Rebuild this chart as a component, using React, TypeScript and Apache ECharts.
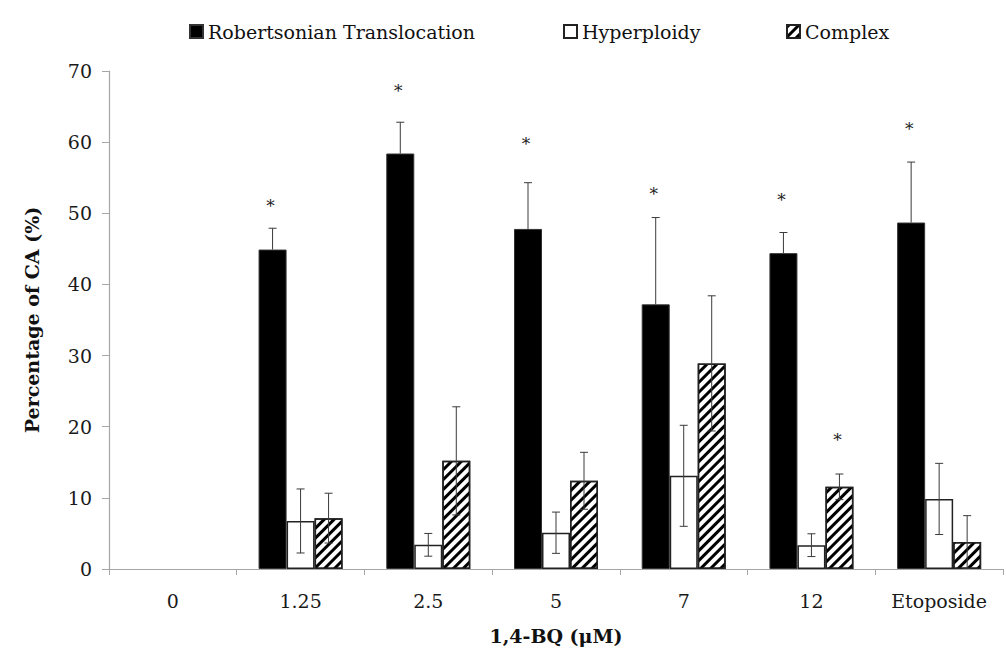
import React, { useEffect, useRef } from "react";
import * as echarts from "echarts";

const categories = ["0", "1.25", "2.5", "5", "7", "12", "Etoposide"];
const robertsonian = [0, 44.9, 58.4, 47.8, 37.2, 44.4, 48.7];
const robertsonianErr = [0, 3.0, 4.4, 6.5, 12.2, 2.9, 8.5];
const hyperploidy = [0, 6.75, 3.4, 5.1, 13.1, 3.35, 9.85];
const hyperploidyErr = [0, 4.5, 1.6, 2.9, 7.1, 1.6, 5.0];
const complex = [0, 7.15, 15.2, 12.4, 28.9, 11.55, 3.8];
const complexErr = [0, 3.5, 7.6, 4.0, 9.5, 1.8, 3.7];
const robertsonianSig: (number | null)[] = [null, 51.4, 67.6, 60.2, 53.2, 52.3, 62.3];
const complexSig: (number | null)[] = [null, null, null, null, null, 18.6, null];
const yTicks = { min: 0, max: 70, interval: 10 };

const FONT = "'DejaVu Serif', serif";
const BAR_W = 28;
const ERR_COLOR = "#3a3a3a";

// zero-height bars are not drawn in the reference
const barData = (vals: number[]) => vals.map((v) => (v === 0 ? "-" : v));

function errSeries(values: number[], errs: number[], slot: number, upOnly: boolean) {
  return {
    type: "custom",
    z: 5,
    silent: true,
    data: values.map((v, i) => [i, v, errs[i]]),
    encode: { x: 0, y: 1 },
    renderItem: (params: any, api: any) => {
      const i = api.value(0);
      const v = api.value(1);
      const e = api.value(2);
      if (!e) return null;
      const c = api.coord([i, v]);
      const t = api.coord([i, v + e]);
      const b = api.coord([i, v - e]);
      const x = c[0] + slot * BAR_W;
      const st = { stroke: ERR_COLOR, lineWidth: 1 };
      const children: any[] = [
        { type: "line", shape: { x1: x, y1: t[1], x2: x, y2: upOnly ? c[1] : b[1] }, style: st },
        { type: "line", shape: { x1: x - 4, y1: t[1], x2: x + 4, y2: t[1] }, style: st },
      ];
      if (!upOnly) {
        children.push({ type: "line", shape: { x1: x - 4, y1: b[1], x2: x + 4, y2: b[1] }, style: st });
      }
      return { type: "group", children };
    },
  };
}

function sigSeries(levels: (number | null)[], slot: number) {
  const data: number[][] = [];
  levels.forEach((s, i) => {
    if (s != null) data.push([i, s]);
  });
  return {
    type: "custom",
    z: 6,
    silent: true,
    data,
    encode: { x: 0, y: 1 },
    renderItem: (params: any, api: any) => {
      const c = api.coord([api.value(0), api.value(1)]);
      return {
        type: "text",
        x: c[0] + slot * BAR_W - 2,
        y: c[1] + 3,
        style: {
          text: "*",
          fill: "#222",
          font: `17px ${FONT}`,
          align: "center",
          verticalAlign: "middle",
        },
      };
    },
  };
}

export default function App() {
  const ref = useRef<HTMLDivElement>(null);
  useEffect(() => {
    if (!ref.current) return;
    const chart = echarts.init(ref.current, null, { renderer: "svg" });
    const legendText = { fontFamily: FONT, fontSize: 19, color: "#111" };
    const mkLegend = (name: string, left: number) => ({
      data: [{ name, icon: "rect" }],
      left,
      top: 17,
      itemWidth: 13,
      itemHeight: 13,
      itemGap: 0,
      textStyle: legendText,
      selectedMode: false,
    });
    chart.setOption({
      animation: false,
      backgroundColor: "#fff",
      legend: [
        mkLegend("Robertsonian Translocation", 184),
        mkLegend("Hyperploidy", 558),
        mkLegend("Complex", 781),
      ],
      grid: { left: 109, right: 3, top: 71, bottom: 82, containLabel: false },
      xAxis: {
        type: "category",
        data: categories,
        boundaryGap: true,
        axisLine: { lineStyle: { color: "#a6a6a6", width: 1.2 } },
        axisTick: { show: true, length: 6, alignWithLabel: false, lineStyle: { color: "#a6a6a6" } },
        axisLabel: { fontFamily: FONT, fontSize: 19, color: "#1a1a1a", margin: 22 },
        name: "1,4-BQ (μM)",
        nameLocation: "middle",
        nameGap: 57,
        nameTextStyle: { fontFamily: FONT, fontSize: 19, fontWeight: "bold", color: "#111" },
      },
      yAxis: {
        type: "value",
        min: yTicks.min,
        max: yTicks.max,
        interval: yTicks.interval,
        splitLine: { show: false },
        axisLine: { show: true, lineStyle: { color: "#a6a6a6", width: 1.2 } },
        axisTick: { show: true, length: 7, lineStyle: { color: "#a6a6a6" } },
        axisLabel: { fontFamily: FONT, fontSize: 19, color: "#1a1a1a", margin: 17 },
        name: "Percentage of CA (%)",
        nameLocation: "middle",
        nameGap: 68,
        nameTextStyle: { fontFamily: FONT, fontSize: 19, fontWeight: "bold", color: "#111" },
      },
      series: [
        {
          name: "Robertsonian Translocation",
          type: "bar",
          data: barData(robertsonian),
          barWidth: BAR_W,
          barGap: "0%",
          itemStyle: { color: "#000", borderColor: "#333", borderWidth: 1 },
        },
        {
          name: "Hyperploidy",
          type: "bar",
          data: barData(hyperploidy),
          barWidth: BAR_W,
          barGap: "0%",
          itemStyle: { color: "#fff", borderColor: "#222", borderWidth: 1.5 },
        },
        {
          name: "Complex",
          type: "bar",
          data: barData(complex),
          barWidth: BAR_W,
          barGap: "0%",
          itemStyle: {
            color: "#fff",
            borderColor: "#222",
            borderWidth: 1.5,
            decal: {
              symbol: "rect",
              symbolSize: 1,
              dashArrayX: [1, 0],
              dashArrayY: [3, 4],
              rotation: -Math.PI / 4,
              color: "#000",
              backgroundColor: "#fff",
            },
          },
        },
        errSeries(robertsonian, robertsonianErr, -1, true),
        errSeries(hyperploidy, hyperploidyErr, 0, false),
        errSeries(complex, complexErr, 1, false),
        sigSeries(robertsonianSig, -1),
        sigSeries(complexSig, 1),
      ],
    });
    return () => chart.dispose();
  }, []);
  return <div ref={ref} style={{ width: 1006, height: 651, position: "fixed", left: 0, top: 0 }} />;
}
